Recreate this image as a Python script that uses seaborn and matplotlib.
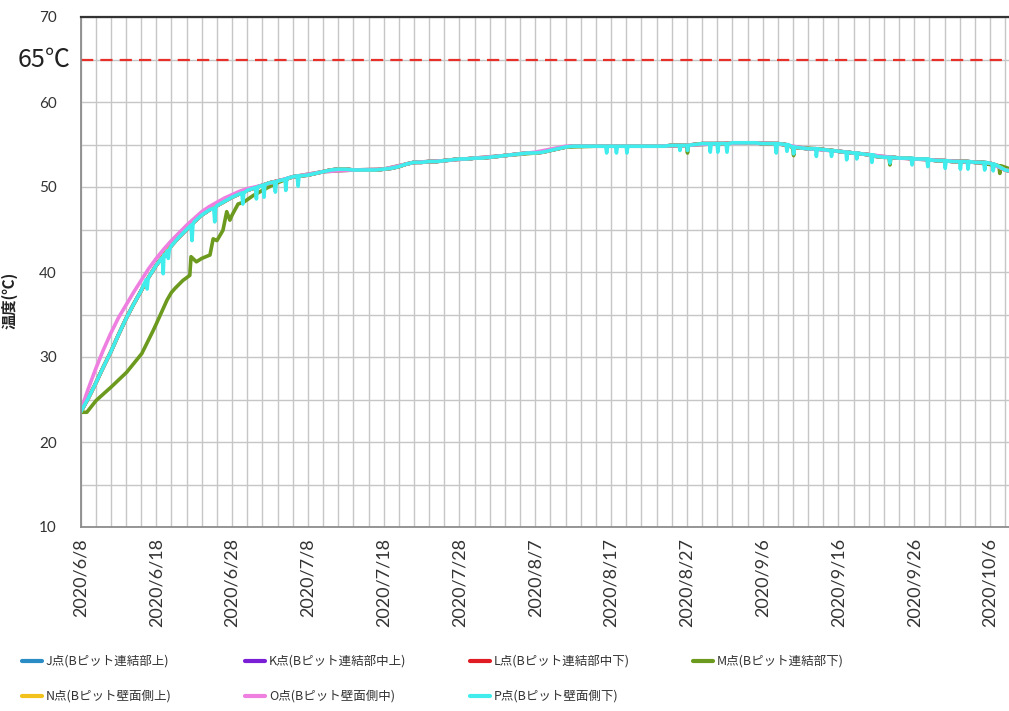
import pandas as pd
import seaborn as sns
import matplotlib.pyplot as plt
import matplotlib.dates as mdates
from matplotlib.lines import Line2D
from matplotlib.ticker import FuncFormatter, MultipleLocator
from matplotlib.font_manager import FontProperties


START = "2020-06-08"

POINTS = [
    "J点(Bピット連結部上)",
    "K点(Bピット連結部中上)",
    "L点(Bピット連結部中下)",
    "M点(Bピット連結部下)",
    "N点(Bピット壁面側上)",
    "O点(Bピット壁面側中)",
    "P点(Bピット壁面側下)",
]
COLORS = ["#2a8cc4", "#7a1fd6", "#e01b24", "#6b9a1e", "#f2c21b", "#ee7fe0", "#40ecec"]

# P点: daily readings at 00:00, 2020/6/8 .. 2020/10/10
p_daily = [
    23.5, 25.1, 26.9, 28.8, 30.6, 32.6, 34.5, 36.2, 37.8, 39.4,   # 6/8 - 6/17
    40.8, 42.0, 43.1, 44.1, 45.0, 45.9, 46.7, 47.3, 47.8, 48.3,   # 6/18 - 6/27
    48.8, 49.2, 49.6, 49.9, 50.2, 50.5, 50.7, 50.9, 51.2, 51.3,   # 6/28 - 7/7
    51.4, 51.6, 51.8, 52.0, 52.1, 52.1, 52.0, 52.0, 52.0, 52.0,   # 7/8 - 7/17
    52.1, 52.2, 52.4, 52.7, 52.9, 52.9, 53.0, 53.0, 53.1, 53.2,   # 7/18 - 7/27
    53.3, 53.3, 53.4, 53.4, 53.5, 53.6, 53.7, 53.8, 53.9, 54.0,   # 7/28 - 8/6
    54.0, 54.1, 54.3, 54.5, 54.7, 54.8, 54.8, 54.8, 54.8, 54.8,   # 8/7 - 8/16
    54.8, 54.8, 54.8, 54.8, 54.8, 54.8, 54.8, 54.8, 54.9, 54.9,   # 8/17 - 8/26
    54.9, 55.0, 55.1, 55.1, 55.1, 55.1, 55.2, 55.2, 55.2, 55.2,   # 8/27 - 9/5
    55.1, 55.1, 55.1, 55.0, 54.7, 54.6, 54.5, 54.5, 54.4, 54.3,   # 9/6 - 9/15
    54.2, 54.1, 54.0, 53.9, 53.8, 53.6, 53.5, 53.5, 53.4, 53.4,   # 9/16 - 9/25
    53.3, 53.3, 53.2, 53.1, 53.1, 53.0, 53.0, 53.0, 52.9, 52.9,   # 9/26 - 10/5
    52.8, 52.5, 52.0, 51.8, 51.7,                                 # 10/6 - 10/10
]
# short drops in P (reading before, bottom, reading after)
p_dip_times = [
    "2020-06-16 16:00", "2020-06-16 19:00", "2020-06-16 22:00",
    "2020-06-18 19:00", "2020-06-18 22:00", "2020-06-19 01:00",
    "2020-06-19 11:00", "2020-06-19 14:00", "2020-06-19 17:00",
    "2020-06-22 14:00", "2020-06-22 17:00", "2020-06-22 20:00",
    "2020-06-25 14:00", "2020-06-25 17:00", "2020-06-25 20:00",
    "2020-06-29 07:00", "2020-06-29 10:00", "2020-06-29 13:00",
    "2020-07-01 02:00", "2020-07-01 05:00", "2020-07-01 08:00",
    "2020-07-02 02:00", "2020-07-02 05:00", "2020-07-02 08:00",
    "2020-07-03 14:00", "2020-07-03 17:00", "2020-07-03 20:00",
    "2020-07-04 23:00", "2020-07-05 02:00", "2020-07-05 05:00",
    "2020-07-06 14:00", "2020-07-06 17:00", "2020-07-06 20:00",
    "2020-08-16 07:00", "2020-08-16 10:00", "2020-08-16 13:00",
    "2020-08-17 14:00", "2020-08-17 17:00", "2020-08-17 20:00",
    "2020-08-18 23:00", "2020-08-19 02:00", "2020-08-19 05:00",
    "2020-08-25 23:00", "2020-08-26 02:00", "2020-08-26 05:00",
    "2020-08-26 23:00", "2020-08-27 02:00", "2020-08-27 05:00",
    "2020-08-29 23:00", "2020-08-30 02:00", "2020-08-30 05:00",
    "2020-08-30 23:00", "2020-08-31 02:00", "2020-08-31 05:00",
    "2020-09-01 04:00", "2020-09-01 07:00", "2020-09-01 10:00",
    "2020-09-07 16:00", "2020-09-07 19:00", "2020-09-07 22:00",
    "2020-09-09 02:00", "2020-09-09 05:00", "2020-09-09 08:00",
    "2020-09-09 23:00", "2020-09-10 02:00", "2020-09-10 05:00",
    "2020-09-12 23:00", "2020-09-13 02:00", "2020-09-13 05:00",
    "2020-09-14 23:00", "2020-09-15 02:00", "2020-09-15 05:00",
    "2020-09-16 23:00", "2020-09-17 02:00", "2020-09-17 05:00",
    "2020-09-18 07:00", "2020-09-18 10:00", "2020-09-18 13:00",
    "2020-09-20 07:00", "2020-09-20 10:00", "2020-09-20 13:00",
    "2020-09-22 16:00", "2020-09-22 19:00", "2020-09-22 22:00",
    "2020-09-25 14:00", "2020-09-25 17:00", "2020-09-25 20:00",
    "2020-09-27 16:00", "2020-09-27 19:00", "2020-09-27 22:00",
    "2020-09-29 23:00", "2020-09-30 02:00", "2020-09-30 05:00",
    "2020-10-01 23:00", "2020-10-02 02:00", "2020-10-02 05:00",
    "2020-10-02 23:00", "2020-10-03 02:00", "2020-10-03 05:00",
    "2020-10-05 04:00", "2020-10-05 07:00", "2020-10-05 10:00",
    "2020-10-06 07:00", "2020-10-06 10:00", "2020-10-06 13:00",
]
p_dip_values = [
    39.1, 38.0, 39.2,
    41.7, 39.8, 41.8,
    42.5, 41.6, 42.6,
    45.5, 43.7, 45.6,
    47.5, 45.9, 47.6,
    49.3, 48.0, 49.3,
    49.9, 48.6, 50.0,
    50.2, 48.8, 50.3,
    50.6, 49.4, 50.6,
    50.9, 49.6, 51.0,
    51.3, 50.1, 51.3,
    54.8, 54.0, 54.8,
    54.8, 54.0, 54.8,
    54.8, 54.0, 54.8,
    54.9, 54.3, 54.9,
    54.9, 54.3, 54.9,
    55.1, 54.1, 55.1,
    55.1, 54.1, 55.1,
    55.1, 54.1, 55.1,
    55.1, 54.0, 55.1,
    55.0, 54.2, 55.0,
    54.7, 53.9, 54.7,
    54.5, 53.6, 54.5,
    54.3, 53.6, 54.3,
    54.1, 53.2, 54.1,
    54.0, 53.3, 54.0,
    53.8, 52.9, 53.8,
    53.5, 52.8, 53.5,
    53.4, 52.6, 53.4,
    53.3, 52.4, 53.3,
    53.1, 52.2, 53.1,
    53.0, 52.1, 53.0,
    53.0, 52.1, 53.0,
    52.9, 52.0, 52.9,
    52.7, 51.9, 52.7,
]

# O点
o_times = list(pd.date_range(START, "2020-06-30", freq="D").strftime("%Y-%m-%d")) + [
    "2020-07-02", "2020-07-04", "2020-07-06", "2020-07-10", "2020-07-14", "2020-07-18",
    "2020-07-22", "2020-07-26", "2020-07-30", "2020-08-03", "2020-08-07", "2020-08-11",
    "2020-08-15", "2020-08-19", "2020-08-23", "2020-08-27", "2020-08-31", "2020-09-04",
    "2020-09-08", "2020-09-12", "2020-09-16", "2020-09-20", "2020-09-24", "2020-09-28",
    "2020-10-02", "2020-10-06", "2020-10-08", "2020-10-10",
]
o_values = [
    23.6, 26.2, 28.6, 30.8, 32.8, 34.6, 36.1, 37.6, 39.0, 40.4,
    41.6, 42.7, 43.7, 44.6, 45.5, 46.3, 47.1, 47.7, 48.2, 48.7,
    49.1, 49.5, 49.8,
    50.2, 50.7, 51.2, 51.8, 52.0, 52.1,
    52.9, 53.1, 53.4, 53.7, 54.1, 54.8,
    54.8, 54.8, 54.8, 54.9, 55.1, 55.2,
    55.1, 54.5, 54.2, 53.8, 53.4, 53.2,
    53.0, 52.8, 52.0, 51.7,
]

# M点
m_times = [
    "2020-06-08 00:00", "2020-06-08 20:00", "2020-06-10 02:00", "2020-06-12 02:00",
    "2020-06-14 02:00", "2020-06-16 02:00", "2020-06-17 14:00", "2020-06-18 00:00",
    "2020-06-19 10:00", "2020-06-20 00:00", "2020-06-20 12:00", "2020-06-21 12:00",
    "2020-06-22 10:00", "2020-06-22 14:00", "2020-06-23 07:00", "2020-06-24 00:00",
    "2020-06-25 02:00", "2020-06-25 12:00", "2020-06-26 00:00", "2020-06-26 19:00",
    "2020-06-27 07:00", "2020-06-27 17:00", "2020-06-28 00:00", "2020-06-28 19:00",
    "2020-06-29 12:00", "2020-06-30 19:00", "2020-07-02 00:00", "2020-07-03 17:00",
    "2020-07-06 00:00", "2020-07-10 00:00", "2020-07-14 00:00", "2020-07-18 00:00",
    "2020-07-22 00:00", "2020-07-26 00:00", "2020-07-30 00:00", "2020-08-03 00:00",
    "2020-08-07 00:00", "2020-08-11 00:00", "2020-08-15 00:00", "2020-08-19 00:00",
    "2020-08-23 00:00", "2020-08-26 23:00", "2020-08-27 02:00", "2020-08-27 05:00",
    "2020-08-31 00:00", "2020-09-04 00:00", "2020-09-08 00:00", "2020-09-09 23:00",
    "2020-09-10 02:00", "2020-09-10 05:00", "2020-09-14 00:00", "2020-09-18 00:00",
    "2020-09-22 16:00", "2020-09-22 19:00", "2020-09-22 22:00", "2020-09-26 00:00",
    "2020-09-30 00:00", "2020-10-04 00:00", "2020-10-07 04:00", "2020-10-07 07:00",
    "2020-10-07 10:00", "2020-10-10 00:00",
]
m_values = [
    23.5, 23.5, 24.9, 26.5,
    28.2, 30.4, 33.1, 33.9,
    36.7, 37.6, 38.1, 39.0,
    39.6, 41.8, 41.2, 41.6,
    42.0, 43.9, 43.7, 44.9,
    47.1, 46.1, 46.7, 48.0,
    48.2, 49.0, 49.6, 50.4,
    51.2, 51.8, 52.0, 52.1,
    52.9, 53.1, 53.4, 53.7,
    54.0, 54.7, 54.8, 54.8,
    54.8, 54.9, 54.0, 54.9,
    55.1, 55.2, 55.1, 54.7,
    53.7, 54.7, 54.4, 54.0,
    53.5, 52.6, 53.5, 53.3,
    53.1, 52.9, 52.5, 51.6,
    52.5, 51.7,
]

# J, K, L, N lie underneath P over the whole period; read as P's daily values
daily_times = list(pd.date_range(START, periods=len(p_daily), freq="D").strftime("%Y-%m-%d"))

series = {
    POINTS[0]: (daily_times, p_daily),
    POINTS[1]: (daily_times, p_daily),
    POINTS[2]: (daily_times, p_daily),
    POINTS[3]: (m_times, m_values),
    POINTS[4]: (daily_times, p_daily),
    POINTS[5]: (o_times, o_values),
    POINTS[6]: (daily_times + p_dip_times, p_daily + p_dip_values),
}

frames = []
for name, (times, vals) in series.items():
    frames.append(pd.DataFrame({"time": pd.to_datetime(times, format="mixed"),
                                "temp": vals, "point": name}))
df = pd.concat(frames, ignore_index=True)

sns.set_style("white")
plt.rcParams["font.family"] = ["Lato", "Noto Sans CJK JP", "DejaVu Sans"]
jp = "Noto Sans CJK JP"

fig = plt.figure(figsize=(10.09, 7.11), dpi=100)
ax = fig.add_axes([80.5 / 1009, 1 - 527 / 711, 1 - 80.5 / 1009, 510 / 711])

sns.lineplot(data=df, x="time", y="temp", hue="point", hue_order=POINTS,
             palette=dict(zip(POINTS, COLORS)), estimator=None, sort=True,
             linewidth=2.6, legend=False, ax=ax)

ax.axhline(65, color="#e8302a", lw=1.6, ls=(0, (5.5, 3.2)), zorder=1)
ax.text(-0.011, 65, "65℃", transform=ax.get_yaxis_transform(), ha="right",
        va="center", fontsize=18, family=[jp], color="#222222")

start = pd.Timestamp(START)
ax.set_xlim(start, start + pd.Timedelta(days=122.5))
ax.set_ylim(10, 70)

ax.set_xticks(pd.date_range(START, "2020-10-06", freq="10D"))
ax.set_xticks(pd.date_range(START, periods=62, freq="2D"), minor=True)
ax.xaxis.set_major_formatter(FuncFormatter(
    lambda v, pos: "{0.year}/{0.month}/{0.day}".format(mdates.num2date(v))))
ax.yaxis.set_major_locator(MultipleLocator(10))
ax.yaxis.set_minor_locator(MultipleLocator(5))

ax.grid(which="both", color="#c6c6c6", lw=1.0)
ax.set_axisbelow(True)

ax.tick_params(axis="x", which="major", direction="in", length=4, color="#999999",
               labelrotation=90, labelsize=13, pad=8, labelcolor="#333333")
ax.tick_params(axis="x", which="minor", length=0)
ax.tick_params(axis="y", which="both", length=0, labelsize=11, pad=17,
               labelcolor="#333333")

for side in ["left", "bottom"]:
    ax.spines[side].set_color("#8c8c8c")
    ax.spines[side].set_linewidth(1.3)
ax.spines["top"].set_color("#333333")
ax.spines["top"].set_linewidth(1.6)
ax.spines["right"].set_visible(False)

ax.set_xlabel("")
ax.set_ylabel("温度(℃)", fontsize=11, fontweight="bold", family=[jp], color="#222222")
ax.yaxis.set_label_coords((18 - 80.5) / 928.5, (527 - 300) / 510)

handles = [Line2D([], [], color=c, lw=3) for c in COLORS]
columns = [[0, 4], [1, 5], [2, 6], [3]]
col_x = [22, 245, 470, 693]
for idx, x in zip(columns, col_x):
    fig.legend([handles[i] for i in idx], [POINTS[i] for i in idx],
               loc="upper left", bbox_to_anchor=(x / 1009, 1 - 655 / 711),
               frameon=False, borderpad=0, borderaxespad=0, handlelength=1.6,
               handletextpad=0.3, labelspacing=1.75,
               prop=FontProperties(family=jp, size=9), labelcolor="#333333")

fig.savefig("out.png", dpi=100)
